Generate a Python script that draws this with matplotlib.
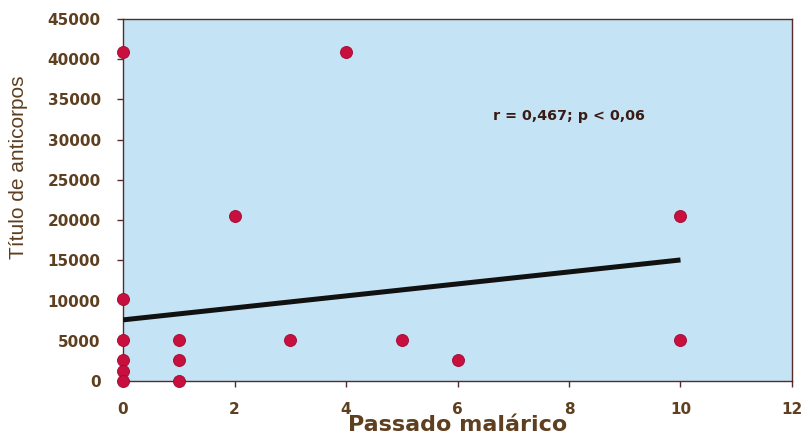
import matplotlib
matplotlib.use("Agg")
import matplotlib.pyplot as plt

# Data
passado = [0, 0, 0, 0, 0, 0, 1, 1, 1, 2, 3, 4, 5, 6, 10, 10]
titulo = [40960, 10240, 5120, 2560, 1280, 0, 5120, 2560, 0, 20480, 5120, 40960, 5120, 2560, 20480, 5120]

reg_x = [0, 10]
reg_y = [7600, 15050]

x_ticks = [0, 2, 4, 6, 8, 10, 12]
y_ticks = [0, 5000, 10000, 15000, 20000, 25000, 30000, 35000, 40000, 45000]

annotation = "r = 0,467; p < 0,06"

brown = "#5e3f20"
axis_col = "#5a2a2a"

fig = plt.figure(figsize=(8.02, 4.36), dpi=100)
ax = fig.add_axes([0.1534, 0.1261, 0.8341, 0.8303])
ax.set_facecolor("#c4e3f4")

ax.plot(reg_x, reg_y, color="#111111", linewidth=3.6, solid_capstyle="butt", zorder=3)
ax.scatter(passado, titulo, s=75, color="#c8103e", edgecolors="#a00830", linewidths=0.6,
           zorder=4, clip_on=False)

ax.set_xlim(0, 12)
ax.set_ylim(0, 45000)
ax.set_xticks(x_ticks)
ax.set_yticks(y_ticks)
ax.set_xticklabels([str(v) for v in x_ticks])
ax.set_yticklabels([str(v) for v in y_ticks])

for sp in ax.spines.values():
    sp.set_color(axis_col)
    sp.set_linewidth(1.0)

ax.tick_params(axis="both", direction="out", length=4, width=1, color=axis_col,
               labelcolor=brown, labelsize=11)
ax.tick_params(axis="y", pad=12)
ax.tick_params(axis="x", pad=11)
for lab in ax.get_xticklabels() + ax.get_yticklabels():
    lab.set_fontweight("bold")
    lab.set_family("DejaVu Sans")

ax.set_ylabel("Título de anticorpos", color=brown, fontsize=15,
              family="Liberation Sans")
ax.yaxis.set_label_coords(-0.142, 0.59)
ax.set_xlabel("Passado malárico", color=brown, fontsize=16, fontweight="semibold",
              family="DejaVu Sans")
ax.xaxis.set_label_coords(0.5, -0.139)
ax.xaxis.label.set_va("baseline")

ax.text(8.0, 33000, annotation, color="#3a1a14", fontsize=10.3, fontweight="bold",
        family="DejaVu Sans", ha="center", va="center")

fig.savefig("out.png", dpi=100)
